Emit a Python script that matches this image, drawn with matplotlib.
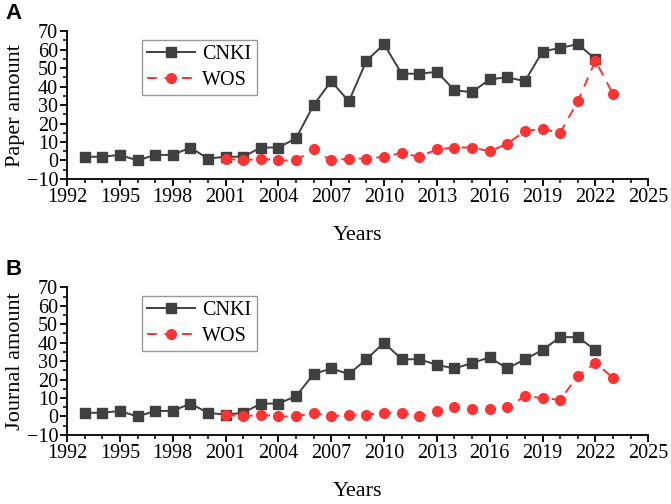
import matplotlib
matplotlib.use("Agg")
import matplotlib.pyplot as plt
from matplotlib.ticker import MultipleLocator

cnki_years = list(range(1993, 2023))
wos_years = list(range(2001, 2024))

paper_cnki = [2, 2, 3, 0, 3, 3, 7, 1, 2, 2, 7, 7, 12, 30, 43, 32, 54, 63, 47, 47,
              48, 38, 37, 44, 45, 43, 59, 61, 63, 55]
paper_wos = [1, 0, 1, 0, 0, 6, 0, 1, 1, 2, 4, 2, 6, 7, 7, 5, 9, 16, 17, 15, 32, 54, 36]

journal_cnki = [2, 2, 3, 0, 3, 3, 7, 2, 1, 2, 7, 7, 11, 23, 26, 23, 31, 40, 31, 31,
                28, 26, 29, 32, 26, 31, 36, 43, 43, 36]
journal_wos = [1, 0, 1, 0, 0, 2, 0, 1, 1, 2, 2, 0, 3, 5, 4, 4, 5, 11, 10, 9, 22, 29, 21]

x_ticks = [1992, 1995, 1998, 2001, 2004, 2007, 2010, 2013, 2016, 2019, 2022, 2025]
y_ticks = [-10, 0, 10, 20, 30, 40, 50, 60, 70]

plt.rcParams['font.family'] = ['Liberation Serif', 'DejaVu Serif']

fig = plt.figure(figsize=(6.71, 5.04), dpi=100)

panels = [
    ("A", "Paper amount", paper_cnki, paper_wos, [0.100, 0.645, 0.866, 0.293]),
    ("B", "Journal amount", journal_cnki, journal_wos, [0.100, 0.137, 0.866, 0.293]),
]

for letter, ylabel, cnki, wos, rect in panels:
    ax = fig.add_axes(rect)
    ax.plot(cnki_years, cnki, color='#404040', lw=1.4, marker='s', ms=6.5,
            label='CNKI', zorder=3)
    ax.plot(wos_years, wos, color='#ff3333', lw=1.4, ls=(0, (5, 4)), marker='o',
            ms=7, label='WOS', zorder=4)
    ax.set_xlim(1992, 2025)
    ax.set_ylim(-10, 70)
    ax.set_xticks(x_ticks)
    ax.set_yticks(y_ticks)
    ax.xaxis.set_minor_locator(MultipleLocator(1))
    ax.yaxis.set_minor_locator(MultipleLocator(5))
    ax.spines['top'].set_visible(False)
    ax.spines['right'].set_visible(False)
    for s in ['left', 'bottom']:
        ax.spines[s].set_linewidth(1.3)
    ax.tick_params(which='major', direction='out', length=5, width=1.3, labelsize=14.5, pad=1.5)
    ax.tick_params(which='minor', direction='out', length=3, width=1.1)
    ax.set_ylabel(ylabel, fontsize=16, labelpad=1)
    ax.set_xlabel('Years', fontsize=16, labelpad=14)
    leg = ax.legend(loc='upper left', bbox_to_anchor=(0.129, 0.94), borderaxespad=0,
                    fontsize=14.5, frameon=True, fancybox=False, edgecolor='#808080',
                    handlelength=2.4, borderpad=0.25, labelspacing=0.35,
                    handletextpad=0.35)
    leg.get_frame().set_linewidth(1.0)
    fig.text(0.008, rect[1] + rect[3] + 0.035, letter, fontsize=16, fontweight='bold',
             family='Liberation Sans', va='center', ha='left')

fig.savefig('out.png', dpi=100)
